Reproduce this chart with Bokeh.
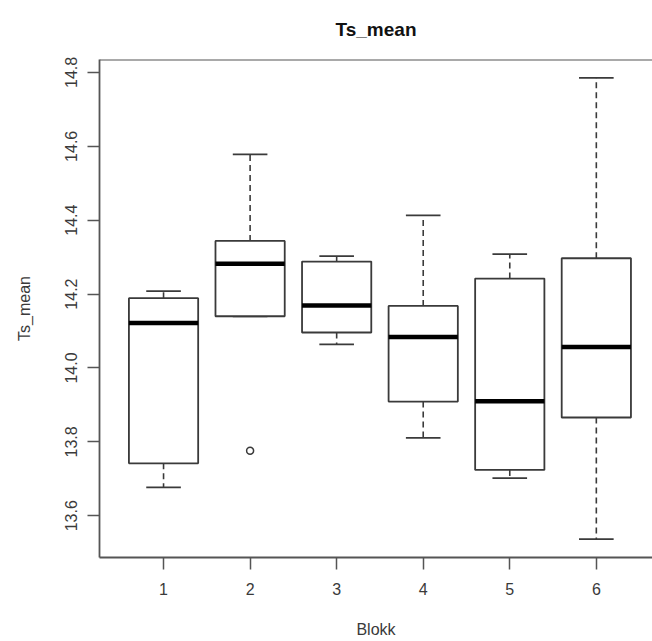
from bokeh.plotting import figure
from bokeh.models import Range1d, FixedTicker, Span, ColumnDataSource, NumeralTickFormatter
from bokeh.embed import file_html
from bokeh.resources import INLINE

# Ts_mean per Blokk: box-plot statistics
blokk = [1, 2, 3, 4, 5, 6]
upper_whisker = [14.208, 14.578, 14.303, 14.413, 14.308, 14.785]
q3 = [14.189, 14.344, 14.288, 14.168, 14.242, 14.297]
median = [14.122, 14.282, 14.169, 14.084, 13.910, 14.057]
q1 = [13.742, 14.140, 14.096, 13.909, 13.724, 13.866]
lower_whisker = [13.677, 14.140, 14.064, 13.811, 13.702, 13.537]

outlier_blokk = [2]
outlier_value = [13.776]

y_ticks = [13.6, 13.8, 14.0, 14.2, 14.4, 14.6, 14.8]

BOX_W = 0.8
CAP_W = 0.4
FONT = "Liberation Sans"
LINE = "#3a3a3a"

# R-style range: data extent padded by 4%
lo = min(min(lower_whisker), min(outlier_value))
hi = max(max(upper_whisker), max(outlier_value))
pad = (hi - lo) * 0.04
y_lo, y_hi = lo - pad, hi + pad

src = ColumnDataSource(dict(
    x=blokk,
    left=[b - BOX_W / 2 for b in blokk],
    right=[b + BOX_W / 2 for b in blokk],
    cap_l=[b - CAP_W / 2 for b in blokk],
    cap_r=[b + CAP_W / 2 for b in blokk],
    up=upper_whisker, q3=q3, med=median, q1=q1, low=lower_whisker,
))

p = figure(
    width=652, height=641,
    x_range=Range1d(0.26, 6.649), y_range=Range1d(y_lo, y_hi),
    output_backend="svg", toolbar_location=None,
    min_border_left=99, min_border_right=0,
    min_border_top=59, min_border_bottom=84,
    background_fill_color="white", border_fill_color="white",
)

# whiskers (dashed) and caps
p.segment(x0="x", y0="q3", x1="x", y1="up", source=src,
          line_color=LINE, line_width=1.6, line_dash="6 4")
p.segment(x0="x", y0="q1", x1="x", y1="low", source=src,
          line_color=LINE, line_width=1.6, line_dash="6 4")
p.segment(x0="cap_l", y0="up", x1="cap_r", y1="up", source=src,
          line_color=LINE, line_width=1.8)
p.segment(x0="cap_l", y0="low", x1="cap_r", y1="low", source=src,
          line_color=LINE, line_width=1.8)

# boxes
p.quad(left="left", right="right", bottom="q1", top="q3", source=src,
       fill_color="white", line_color=LINE, line_width=1.8)

# medians
p.segment(x0="left", y0="med", x1="right", y1="med", source=src,
          line_color="black", line_width=4.5)

# outliers
p.scatter(outlier_blokk, outlier_value, marker="circle", size=7,
          fill_color=None, line_color=LINE, line_width=1.5)

# frame: left/bottom from the axes, top edge as a span
p.outline_line_color = None
p.add_layout(Span(location=y_hi, dimension="width",
                  line_color="#555555", line_width=1.8))

p.xgrid.visible = False
p.ygrid.visible = False

for ax in (p.xaxis[0], p.yaxis[0]):
    ax.axis_line_color = "#555555"
    ax.axis_line_width = 1.8
    ax.major_tick_line_color = "#555555"
    ax.major_tick_line_width = 1.5
    ax.major_tick_in = 0
    ax.major_tick_out = 12
    ax.minor_tick_line_color = None
    ax.major_label_text_font = FONT
    ax.major_label_text_font_size = "16px"
    ax.major_label_text_color = "#3a3a3a"
    ax.axis_label_text_font = FONT
    ax.axis_label_text_font_size = "16px"
    ax.axis_label_text_font_style = "normal"
    ax.axis_label_text_color = "#3a3a3a"

p.xaxis.ticker = FixedTicker(ticks=blokk)
p.xaxis.major_label_standoff = 13
p.xaxis.axis_label = "Blokk"
p.xaxis.axis_label_standoff = 23

p.yaxis.ticker = FixedTicker(ticks=y_ticks)
p.yaxis.formatter = NumeralTickFormatter(format="0.0")
p.yaxis.major_label_orientation = "vertical"
p.yaxis.major_label_standoff = 10
p.yaxis.axis_label = "Ts_mean"
p.yaxis.axis_label_standoff = 30

p.title.text = "Ts_mean"
p.title.align = "center"
p.title.vertical_align = "top"
p.title.offset = 3
p.title.text_font = FONT
p.title.text_font_size = "19px"
p.title.text_font_style = "bold"
p.title.text_color = "#111111"
p.title.standoff = 36

open("out.html", "w").write(file_html(p, INLINE))
